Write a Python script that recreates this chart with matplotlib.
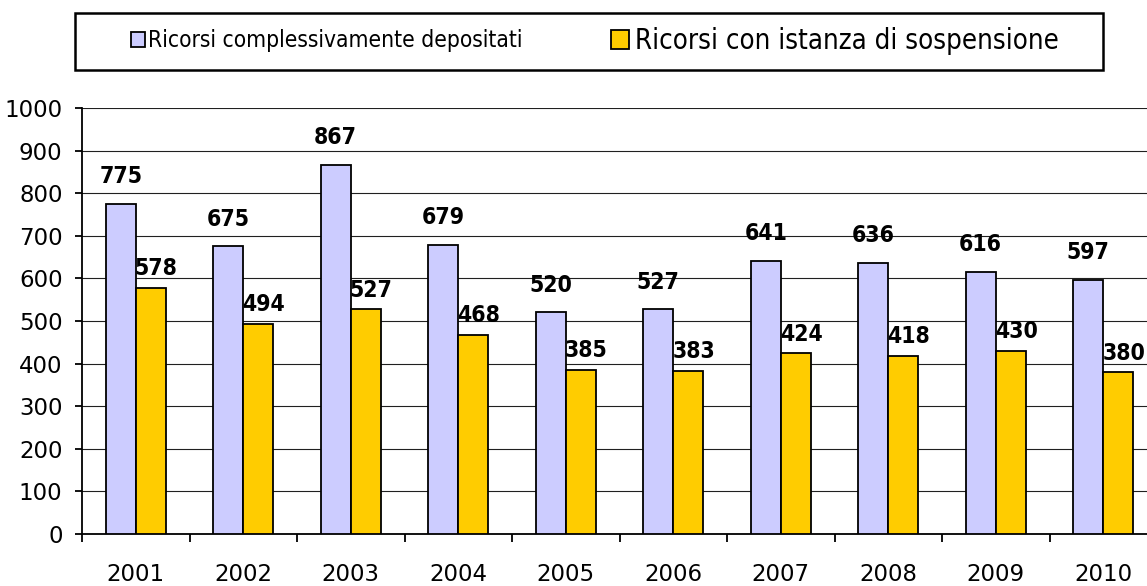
import matplotlib
matplotlib.use("Agg")
import matplotlib.pyplot as plt
from matplotlib.patches import Patch, Rectangle
from matplotlib import font_manager as fm
import numpy as np

anni = ["2001", "2002", "2003", "2004", "2005", "2006", "2007", "2008", "2009", "2010"]
depositati = [775, 675, 867, 679, 520, 527, 641, 636, 616, 597]
sospensione = [578, 494, 527, 468, 385, 383, 424, 418, 430, 380]

nomi = ["Ricorsi complessivamente depositati", "Ricorsi con istanza di sospensione"]
col_dep = "#CCCCFF"
col_sosp = "#FFCC00"

# font stretto se c'e', altrimenti Liberation Sans
prova = fm.findfont(fm.FontProperties(family="DejaVu Sans", stretch="condensed", weight="bold"),
                    fallback_to_default=False)
if "Condensed" in prova:
    f_num = dict(family="DejaVu Sans", stretch="condensed", size=16.5)
    f_leg = dict(family="DejaVu Sans", stretch="condensed")
else:
    f_num = dict(family="Liberation Sans", size=16.5)
    f_leg = dict(family="Liberation Sans")

W, H = 1147, 586
fig = plt.figure(figsize=(W / 100, H / 100), dpi=100)
# l'area del grafico esce un po' a destra, come nell'originale
ax = fig.add_axes([82 / W, (H - 534) / H, 1075 / W, 426 / H])

x = np.arange(len(anni))
w = 0.28
b1 = ax.bar(x - w, depositati, w, align="edge", color=col_dep, edgecolor="black",
            linewidth=1.3, zorder=3)
b2 = ax.bar(x, sospensione, w, align="edge", color=col_sosp, edgecolor="black",
            linewidth=1.3, zorder=3)

for r, v in zip(b1, depositati):
    ax.annotate(str(v), (r.get_x() + w / 2, v), xytext=(0, 15), textcoords="offset points",
                ha="center", va="baseline", fontweight="bold", **f_num)
for r, v in zip(b2, sospensione):
    ax.annotate(str(v), (r.get_x() + w / 2, v), xytext=(4, 9), textcoords="offset points",
                ha="center", va="baseline", fontweight="bold", **f_num)

ax.set_xlim(-0.5, len(anni) - 0.5)
ax.set_ylim(0, 1000)
ax.set_yticks(np.arange(0, 1001, 100))
ax.yaxis.grid(True, color="#202020", linewidth=0.8, zorder=0)
ax.set_axisbelow(True)

ax.set_xticks(x)
ax.set_xticklabels(anni)
ax.set_xticks(np.arange(-0.5, len(anni), 1), minor=True)
ax.tick_params(axis="x", which="major", length=0, pad=21, labelsize=16.5)
ax.tick_params(axis="x", which="minor", length=6, width=1.3, direction="out")
ax.tick_params(axis="y", length=5, width=1.3, pad=9, labelsize=16.5)

for s in ["top", "right"]:
    ax.spines[s].set_visible(False)
ax.spines["left"].set_linewidth(1.3)
ax.spines["bottom"].set_linewidth(1.3)

# legenda in riquadro in alto, due voci con caratteri di misura diversa
fig.patches.append(Rectangle((75 / W, (H - 70) / H), 1028 / W, 57 / H,
                             transform=fig.transFigure, fill=False,
                             edgecolor="black", linewidth=1.8))
leg1 = fig.legend([Patch(facecolor=col_dep, edgecolor="black", linewidth=1.3)], [nomi[0]],
                  loc="center left", bbox_to_anchor=(131 / W, (H - 41) / H), frameon=False,
                  borderpad=0, borderaxespad=0, handlelength=0.6, handleheight=0.6,
                  handletextpad=0.14, prop=dict(size=16.3, **f_leg))
leg2 = fig.legend([Patch(facecolor=col_sosp, edgecolor="black", linewidth=1.3)], [nomi[1]],
                  loc="center left", bbox_to_anchor=(611 / W, (H - 41) / H), frameon=False,
                  borderpad=0, borderaxespad=0, handlelength=0.66, handleheight=0.66,
                  handletextpad=0.22, prop=dict(size=19.8, **f_leg))

fig.savefig("out.png", dpi=100)
